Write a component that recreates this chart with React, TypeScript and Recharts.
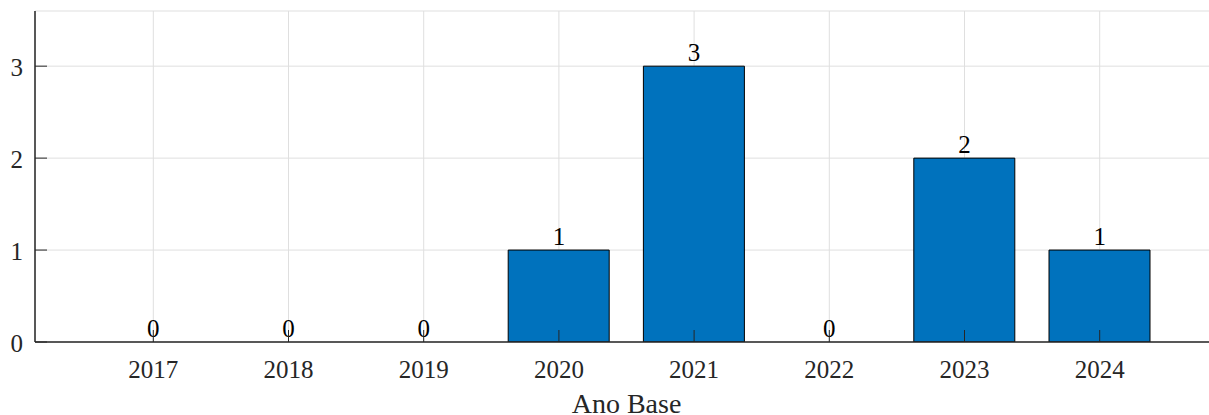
import React from 'react';
import { ComposedChart, Bar, Line, XAxis, YAxis, CartesianGrid, LabelList } from 'recharts';

const years = [2017, 2018, 2019, 2020, 2021, 2022, 2023, 2024];
const counts = [0, 0, 0, 1, 3, 0, 2, 1];
const yTicks = [0, 1, 2, 3];
const xDomain = [2016.125, 2024.875];
const yDomain = [0, 3.6];
const xLabel = 'Ano Base';

const data = years.map((y, i) => ({ year: y, count: counts[i] }));

const AX = '#262626';
const FONT = 'Liberation Serif, Times New Roman, Times, DejaVu Serif, serif';
const TICK = 12;

const BottomTick = (props: any) => {
  const { x, y, payload } = props;
  return (
    <g>
      <line x1={x} x2={x} y1={y} y2={y - TICK} stroke={AX} strokeWidth={1} />
      <text x={x} y={y + 36} textAnchor="middle" fill={AX} style={{ fontSize: 25, fontFamily: FONT }}>
        {payload.value}
      </text>
    </g>
  );
};

const TopTick = (props: any) => {
  const { x, y } = props;
  return <line x1={x} x2={x} y1={y} y2={y + TICK} stroke={AX} strokeWidth={1} />;
};

const LeftTick = (props: any) => {
  const { x, y, payload } = props;
  return (
    <g>
      <line x1={x} x2={x + TICK} y1={y} y2={y} stroke={AX} strokeWidth={1} />
      <text x={x - 12} y={y + 10} textAnchor="end" fill={AX} style={{ fontSize: 25, fontFamily: FONT }}>
        {payload.value}
      </text>
    </g>
  );
};

const RightTick = (props: any) => {
  const { x, y } = props;
  return <line x1={x} x2={x - TICK} y1={y} y2={y} stroke={AX} strokeWidth={1} />;
};

const ValueLabel = (props: any) => {
  const { x, y, value } = props;
  return (
    <text x={x} y={y - 5} textAnchor="middle" fill="#000" style={{ fontSize: 25, fontFamily: FONT }}>
      {value}
    </text>
  );
};

const AxisTitle = (props: any) => {
  const { viewBox } = props;
  return (
    <text
      x={viewBox.x + viewBox.width / 2}
      y={viewBox.y + viewBox.height - 2}
      textAnchor="middle"
      fill={AX}
      style={{ fontSize: 28, fontFamily: FONT }}
    >
      {xLabel}
    </text>
  );
};

export default function App() {
  return (
    <div style={{ position: 'absolute', left: 0, top: 0, width: 1209, height: 415, overflow: 'hidden', background: '#fff' }}>
      <ComposedChart
        width={1230}
        height={415}
        data={data}
        margin={{ top: 11, right: 12, bottom: 0, left: 0 }}
        barCategoryGap="12.5%"
      >
        <CartesianGrid stroke="#dfdfdf" strokeWidth={1} />
        <Bar dataKey="count" fill="#0072BD" stroke="#000" strokeWidth={1} isAnimationActive={false} />
        <Line dataKey="count" stroke="none" dot={false} activeDot={false} isAnimationActive={false}>
          <LabelList dataKey="count" content={<ValueLabel />} />
        </Line>
        <XAxis
          dataKey="year"
          type="number"
          domain={xDomain}
          ticks={years}
          interval={0}
          height={73}
          tickSize={0}
          tickMargin={0}
          tickLine={false}
          tick={<BottomTick />}
          axisLine={{ stroke: AX, strokeWidth: 1.5 }}
          allowDataOverflow
          label={<AxisTitle />}
        />
        <XAxis
          xAxisId="top"
          dataKey="year"
          type="number"
          orientation="top"
          domain={xDomain}
          ticks={years}
          interval={0}
          height={0}
          tickSize={0}
          tickMargin={0}
          tickLine={false}
          tick={<TopTick />}
          axisLine={{ stroke: AX, strokeWidth: 1.5 }}
          allowDataOverflow
        />
        <YAxis
          type="number"
          domain={yDomain}
          ticks={yTicks}
          interval={0}
          width={35}
          tickSize={0}
          tickMargin={0}
          tickLine={false}
          tick={<LeftTick />}
          axisLine={{ stroke: AX, strokeWidth: 1.5 }}
          allowDataOverflow
        />
        <YAxis
          yAxisId="right"
          orientation="right"
          type="number"
          domain={yDomain}
          ticks={yTicks}
          interval={0}
          width={0}
          tickSize={0}
          tickMargin={0}
          tickLine={false}
          tick={<RightTick />}
          axisLine={{ stroke: AX, strokeWidth: 1.5 }}
          allowDataOverflow
        />
      </ComposedChart>
    </div>
  );
}
